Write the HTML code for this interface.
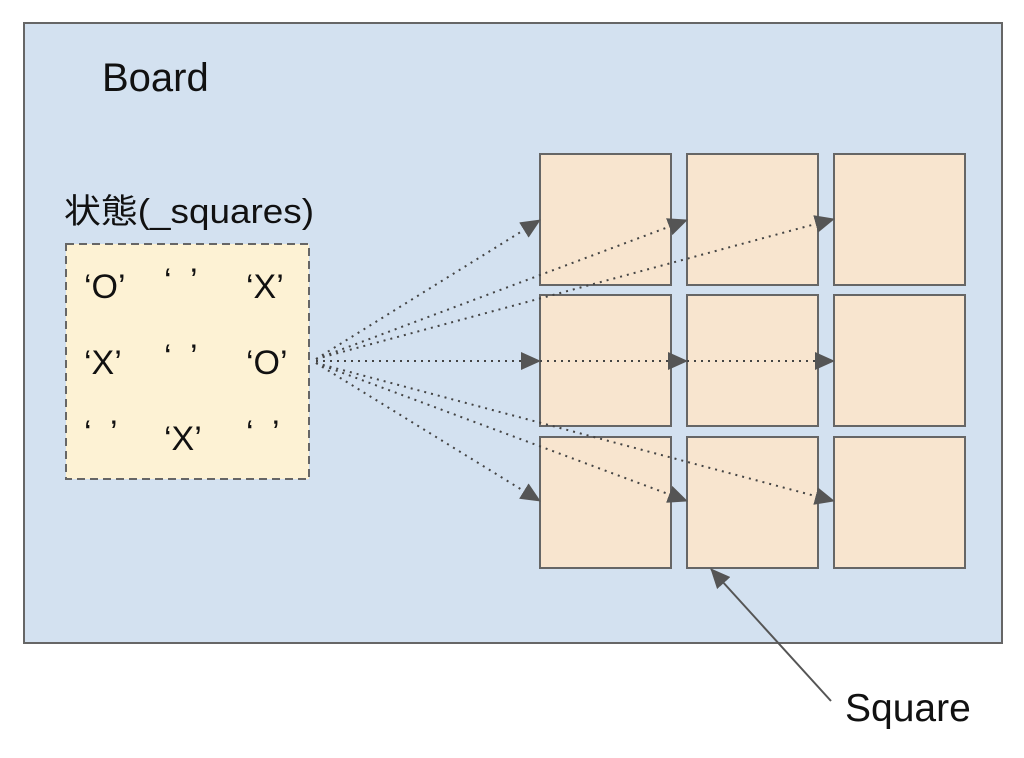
<!DOCTYPE html>
<html><head><meta charset="utf-8"><style>
body{margin:0;background:#fff;width:1024px;height:753px;overflow:hidden}
</style></head><body>
<svg width="1024" height="753" xmlns="http://www.w3.org/2000/svg" font-family="Liberation Sans, Noto Sans CJK JP, sans-serif">
<defs>
<marker id="b" markerWidth="20" markerHeight="18" refX="19" refY="9" orient="auto" markerUnits="userSpaceOnUse" viewBox="0 0 20 18"><path d="M0,0 L20,9 L0,18 z" fill="#555"/></marker></defs>
<rect x="24" y="23" width="978" height="620" fill="#d3e1f0" stroke="#666" stroke-width="2"/>
<text x="102" y="91" font-size="40" fill="#111">Board</text>
<text x="64" y="223" font-size="34" fill="#111" textLength="250" lengthAdjust="spacingAndGlyphs">状態(_squares)</text>
<rect x="66" y="244" width="243" height="235" fill="#fdf2d4" stroke="#666" stroke-width="2" stroke-dasharray="8,5"/>
<g font-size="34" fill="#111">
<text x="84" y="298">‘O’</text><text x="164" y="292">‘</text><text x="190" y="292">’</text><text x="246" y="298">‘X’</text>
<text x="84" y="374">‘X’</text><text x="164" y="368">‘</text><text x="190" y="368">’</text><text x="246" y="374">‘O’</text>
<text x="84" y="444">‘</text><text x="110" y="444">’</text><text x="164" y="450">‘X’</text><text x="246" y="444">‘</text><text x="272" y="444">’</text>
</g>
<g fill="#f8e5cf" stroke="#666" stroke-width="2">
<rect x="540" y="154" width="131" height="131"/><rect x="687" y="154" width="131" height="131"/><rect x="834" y="154" width="131" height="131"/>
<rect x="540" y="295" width="131" height="131"/><rect x="687" y="295" width="131" height="131"/><rect x="834" y="295" width="131" height="131"/>
<rect x="540" y="437" width="131" height="131"/><rect x="687" y="437" width="131" height="131"/><rect x="834" y="437" width="131" height="131"/>
</g>
<g stroke="#444" stroke-width="2" stroke-dasharray="2,5" fill="none">
<line x1="316" y1="359" x2="540" y2="220" marker-end="url(#b)"/>
<line x1="316" y1="359" x2="687" y2="220" marker-end="url(#b)"/>
<line x1="316" y1="359" x2="834" y2="219" marker-end="url(#b)"/>
<line x1="316" y1="361" x2="540" y2="361" marker-end="url(#b)"/>
<line x1="540" y1="361" x2="687" y2="361" marker-end="url(#b)"/>
<line x1="687" y1="361" x2="834" y2="361" marker-end="url(#b)"/>
<line x1="316" y1="363" x2="540" y2="501" marker-end="url(#b)"/>
<line x1="316" y1="363" x2="687" y2="501" marker-end="url(#b)"/>
<line x1="316" y1="363" x2="834" y2="501" marker-end="url(#b)"/>
</g>
<line x1="831" y1="701" x2="711" y2="569" stroke="#555" stroke-width="2" marker-end="url(#b)"/>
<text x="845" y="721" font-size="39" fill="#111">Square</text>
</svg>
</body></html>
